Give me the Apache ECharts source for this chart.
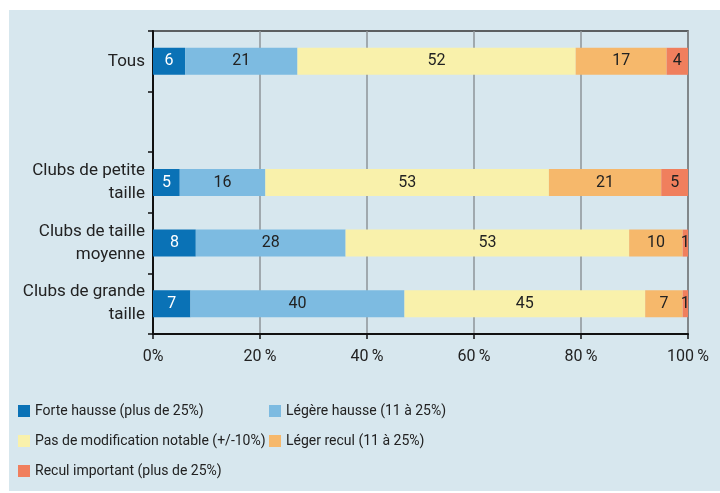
<!DOCTYPE html>
<html>
<head>
<meta charset="utf-8">
<script src="https://cdn.jsdelivr.net/npm/echarts@6/dist/echarts.min.js"></script>
<style>
  html, body { margin: 0; padding: 0; background: #fff; }
  #chart { position: absolute; left: 9px; top: 10px; width: 711px; height: 481px; background: #d7e7ee; }
</style>
</head>
<body>
<div id="chart"></div>
<script>
// catégories (de haut en bas), la ligne vide sépare « Tous » des tailles de club
const categories = ['Tous', '', 'Clubs de petite\ntaille', 'Clubs de taille\nmoyenne', 'Clubs de grande\ntaille']

const forteHausse    = [6, '-', 5, 8, 7]
const legereHausse   = [21, '-', 16, 28, 40]
const pasModif       = [52, '-', 53, 53, 45]
const legerRecul     = [17, '-', 21, 10, 7]
const reculImportant = [4, '-', 5, 1, 1]

const seriesNames = [
  'Forte hausse (plus de 25%)',
  'Légère hausse (11 à 25%)',
  'Pas de modification notable (+/-10%)',
  'Léger recul (11 à 25%)',
  'Recul important (plus de 25%)'
]
const xTickLabels = ['0%', '20\u2009%', '40\u2009%', '60\u2009%', '80\u2009%', '100\u2009%']

const colors = ['#0a72b6', '#7dbbe1', '#f9f1ab', '#f6b86b', '#f07f5d']
const font = '"Liberation Sans Narrow", "Roboto", sans-serif'

const chart = echarts.init(document.getElementById('chart'))

const mkSeries = (name, data, i) => ({
  name,
  type: 'bar',
  stack: 'total',
  data,
  barWidth: 27,
  itemStyle: { color: colors[i] },
  label: {
    show: true,
    position: 'inside',
    color: i === 0 ? '#fff' : '#222',
    fontFamily: font,
    fontSize: 16
  }
})

const legendBase = {
  orient: 'vertical', top: 394, padding: 0,
  itemWidth: 12, itemHeight: 12, itemGap: 16,
  icon: 'rect',
  textStyle: { fontFamily: font, fontSize: 14, color: '#222' }
}

chart.setOption({
  animation: false,
  textStyle: { fontFamily: font },
  grid: {
    left: 144, right: 32, top: 21, bottom: 157,
    show: true, borderColor: '#333', borderWidth: 1.5,
    backgroundColor: 'transparent'
  },
  legend: [
    { ...legendBase, left: 9, data: [seriesNames[0], seriesNames[2], seriesNames[4]] },
    { ...legendBase, left: 260, data: [seriesNames[1], seriesNames[3]] }
  ],
  xAxis: {
    type: 'value',
    min: 0, max: 100, interval: 20,
    axisLine: { show: true, lineStyle: { color: '#111', width: 2 } },
    axisTick: { show: true, length: 5, lineStyle: { color: '#111', width: 1.5 } },
    splitLine: { show: true, lineStyle: { color: '#8e9499', width: 1.5 } },
    axisLabel: {
      margin: 15,
      fontFamily: font, fontSize: 16, color: '#222',
      formatter: v => xTickLabels[Math.round(v / 20)]
    }
  },
  yAxis: {
    type: 'category',
    inverse: true,
    data: categories,
    axisLine: { show: true, lineStyle: { color: '#111', width: 2 } },
    axisTick: { show: true, length: 5, lineStyle: { color: '#111', width: 1.5 } },
    axisLabel: {
      margin: 8,
      fontFamily: font, fontSize: 17, color: '#222',
      lineHeight: 23, align: 'right'
    }
  },
  series: [
    mkSeries(seriesNames[0], forteHausse, 0),
    mkSeries(seriesNames[1], legereHausse, 1),
    mkSeries(seriesNames[2], pasModif, 2),
    mkSeries(seriesNames[3], legerRecul, 3),
    mkSeries(seriesNames[4], reculImportant, 4)
  ]
})
</script>
</body>
</html>
